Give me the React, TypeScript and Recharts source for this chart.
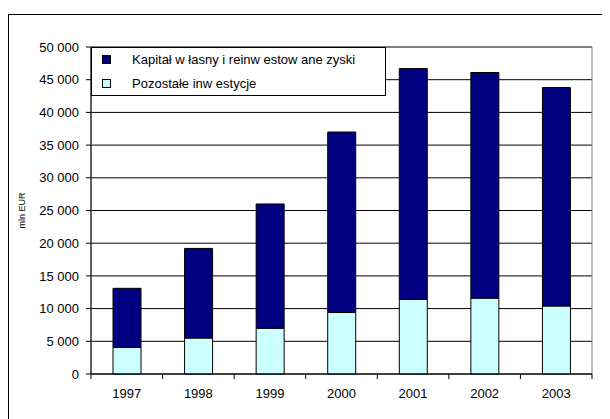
import { Bar, BarChart, CartesianGrid, ReferenceArea, XAxis, YAxis } from "recharts";

const years = ["1997", "1998", "1999", "2000", "2001", "2002", "2003"];
// dolna część słupka
const pozostale = [4050, 5500, 7000, 9400, 11400, 11600, 10400];
// górna część słupka
const kapital = [9050, 13700, 19000, 27600, 35300, 34500, 33400];
const yTicks = [0, 5000, 10000, 15000, 20000, 25000, 30000, 35000, 40000, 45000, 50000];

const series = [
  { key: "kapital", name: "Kapitał w łasny i reinw estow ane zyski", color: "#000080" },
  { key: "pozostale", name: "Pozostałe inw estycje", color: "#CCFFFF" },
];

const data = years.map((year, i) => ({ year, pozostale: pozostale[i], kapital: kapital[i] }));

const font = "'Liberation Sans', Arial, sans-serif";

const fmt = (v: number) => String(v).replace(/\B(?=(\d{3})+(?!\d))/g, " ");

function YearTick(props: any) {
  const { x, y, payload, index, visibleTicksCount } = props;
  const half = payload.offset ?? 35.8;
  const last = index === visibleTicksCount - 1;
  return (
    <g>
      <line x1={x - half} x2={x - half} y1={y} y2={y + 5} stroke="#000" />
      {last && <line x1={x + half} x2={x + half} y1={y} y2={y + 5} stroke="#000" />}
      <text x={x} y={y + 24} textAnchor="middle" fontSize={13} fontFamily={font} fill="#000">
        {payload.value}
      </text>
    </g>
  );
}

function UnitLabel(props: any) {
  const { viewBox } = props;
  const cx = viewBox.x + 13;
  const cy = viewBox.y + viewBox.height / 2;
  return (
    <text
      x={cx}
      y={cy}
      transform={`rotate(-90 ${cx} ${cy})`}
      textAnchor="middle"
      dominantBaseline="central"
      fontSize={9}
      fontFamily={font}
      fill="#000"
    >
      mln EUR
    </text>
  );
}

export default function App() {
  return (
    <div
      style={{
        marginTop: 6,
        width: 610,
        height: 419,
        borderLeft: "1px solid #000",
        borderTop: "1px solid #000",
        position: "relative",
      }}
    >
      <BarChart
        width={602}
        height={405}
        data={data}
        margin={{ top: 32, right: 19, bottom: 16, left: 0 }}
        barSize={28}
      >
        <CartesianGrid vertical={false} stroke="#000" />
        <ReferenceArea y1={0} y2={50000} fill="none" stroke="#808080" />
        <XAxis
          dataKey="year"
          axisLine={{ stroke: "#000" }}
          tickLine={false}
          tickSize={0}
          tickMargin={0}
          height={30}
          tick={<YearTick />}
        />
        <YAxis
          width={82}
          domain={[0, 50000]}
          ticks={yTicks}
          tickFormatter={fmt}
          axisLine={{ stroke: "#000" }}
          tickLine={{ stroke: "#000" }}
          tickSize={5}
          tickMargin={7}
          tick={{ fontSize: 13, fontFamily: font, fill: "#000" }}
          label={<UnitLabel />}
          interval={0}
        />
        <Bar dataKey="pozostale" stackId="a" fill="#CCFFFF" stroke="#000" isAnimationActive={false} />
        <Bar dataKey="kapital" stackId="a" fill="#000080" stroke="#000" isAnimationActive={false} />
      </BarChart>
      <div
        style={{
          position: "absolute",
          left: 82,
          top: 32,
          width: 295,
          height: 49,
          boxSizing: "border-box",
          border: "1px solid #000",
          background: "#fff",
          fontFamily: font,
          fontSize: 13,
        }}
      >
        {series.map((s, i) => (
          <div key={s.key} style={{ position: "absolute", left: 0, top: i * 24, height: 24, width: "100%" }}>
            <span
              style={{
                position: "absolute",
                left: 10,
                top: 7,
                width: 9,
                height: 9,
                boxSizing: "border-box",
                border: "1px solid #000",
                background: s.color,
              }}
            />
            <span style={{ position: "absolute", left: 40, top: 4, lineHeight: "15px", whiteSpace: "nowrap" }}>
              {s.name}
            </span>
          </div>
        ))}
      </div>
    </div>
  );
}
